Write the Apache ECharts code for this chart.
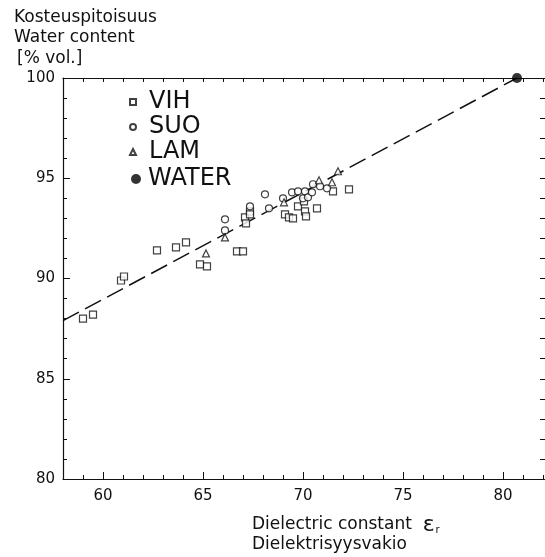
<!DOCTYPE html>
<html>
<head>
<meta charset="utf-8">
<script src="https://cdn.jsdelivr.net/npm/echarts@6/dist/echarts.min.js"></script>
<style>
  html, body { margin: 0; padding: 0; background: #fff; }
  #chart { width: 545px; height: 557px; }
</style>
</head>
<body>
<div id="chart"></div>
<script>
  "use strict";
  // 数据 (dielectric constant, water content % vol.)
  var vihData = [
    [59.0, 88.0], [59.5, 88.2], [60.9, 89.9], [61.05, 90.1], [62.7, 91.4],
    [63.65, 91.55], [64.15, 91.8], [64.85, 90.7], [65.2, 90.6], [66.7, 91.35],
    [67.0, 91.35], [67.1, 93.05], [67.15, 92.75], [67.35, 93.35], [67.35, 93.2],
    [69.1, 93.2], [69.3, 93.05], [69.5, 93.0], [69.75, 93.6], [70.05, 93.85],
    [70.1, 93.35], [70.15, 93.1], [70.7, 93.5], [71.5, 94.35], [72.3, 94.45]
  ];
  var suoData = [
    [66.1, 92.95], [66.1, 92.4], [67.35, 93.6], [68.1, 94.2], [68.3, 93.5],
    [69.0, 94.0], [69.45, 94.3], [69.75, 94.35], [70.0, 94.0], [70.1, 94.35],
    [70.25, 94.05], [70.45, 94.3], [70.5, 94.7], [70.85, 94.6], [71.2, 94.5]
  ];
  var lamData = [
    [65.15, 91.25], [66.1, 92.05], [69.05, 93.8], [70.8, 94.9], [71.45, 94.8], [71.75, 95.35]
  ];
  var waterData = [[80.7, 100]];
  // 回归线两端
  var fitX = [58, 80.7];
  var fitY = [87.9, 100];
  // 刻度
  var xMajorTicks = [60, 65, 70, 75, 80];
  var yTicks = [80, 85, 90, 95, 100];

  var FONT = '"DejaVu Sans", sans-serif';
  var INK = '#111';

  var chart = echarts.init(document.getElementById('chart'));

  var hollow = { color: '#fff', borderColor: INK, borderWidth: 1.2 };

  var option = {
    animation: false,
    backgroundColor: '#fff',
    grid: { left: 63, top: 78, width: 483, height: 401 },
    legend: [
      {
        data: ['VIH', 'SUO', 'LAM'],
        orient: 'vertical', left: 124, top: 85,
        itemWidth: 6, itemHeight: 6, itemGap: 1,
        textStyle: { fontFamily: FONT, fontSize: 24, lineHeight: 24, color: INK, padding: [0, 0, 0, 8] },
        selectedMode: false
      },
      {
        data: ['WATER'],
        orient: 'vertical', left: 126, top: 162,
        itemWidth: 10, itemHeight: 10,
        textStyle: { fontFamily: FONT, fontSize: 24, lineHeight: 24, color: INK, padding: [0, 0, 0, 2] },
        selectedMode: false
      }
    ],
    xAxis: [
      {
        type: 'value', position: 'bottom', min: 58, max: 82.1, interval: 1,
        splitLine: { show: false },
        axisLine: { lineStyle: { color: INK, width: 1.2 } },
        axisTick: { inside: true, length: 4, lineStyle: { color: INK } },
        axisLabel: {
          margin: 10, fontFamily: FONT, fontSize: 15, color: INK,
          customValues: xMajorTicks
        }
      },
      {
        type: 'value', position: 'bottom', min: 58, max: 82.1,
        splitLine: { show: false },
        axisLine: { show: false },
        axisTick: { inside: true, length: 7, customValues: xMajorTicks, lineStyle: { color: INK } },
        axisLabel: { show: false }
      },
      {
        type: 'value', position: 'top', min: 58, max: 82.1, interval: 1,
        splitLine: { show: false },
        axisLine: { lineStyle: { color: INK, width: 1.2 } },
        axisTick: { inside: true, length: 4, lineStyle: { color: INK } },
        axisLabel: { show: false }
      }
    ],
    yAxis: [
      {
        type: 'value', position: 'left', min: 80, max: 100, interval: 5,
        splitLine: { show: false },
        axisLine: { lineStyle: { color: INK, width: 1.2 } },
        axisTick: { inside: true, length: 7, lineStyle: { color: INK } },
        minorTick: { show: true, splitNumber: 5, length: 4, lineStyle: { color: INK } },
        axisLabel: { margin: 8, fontFamily: FONT, fontSize: 15, color: INK, customValues: yTicks }
      },
      {
        type: 'value', position: 'right', min: 80, max: 100, interval: 5,
        splitLine: { show: false },
        axisLine: { show: false },
        axisTick: { inside: true, length: 5, lineStyle: { color: INK } },
        minorTick: { show: true, splitNumber: 5, length: 5, lineStyle: { color: INK } },
        axisLabel: { show: false }
      }
    ],
    series: [
      {
        name: 'fit', type: 'line', silent: true, z: 1,
        data: fitX.map(function (x, i) { return [x, fitY[i]]; }),
        symbol: 'none',
        lineStyle: { color: INK, width: 1.5, type: [18, 7] }
      },
      {
        name: 'VIH', type: 'scatter', symbol: 'rect', symbolSize: 7, z: 3,
        itemStyle: hollow, data: vihData
      },
      {
        name: 'SUO', type: 'scatter', symbol: 'circle', symbolSize: 7, z: 3,
        itemStyle: hollow, data: suoData
      },
      {
        name: 'LAM', type: 'scatter', symbol: 'triangle', symbolSize: 7, z: 3,
        itemStyle: hollow, data: lamData
      },
      {
        name: 'WATER', type: 'scatter', symbol: 'circle', symbolSize: 10, z: 4, clip: false,
        itemStyle: { color: '#000' }, data: waterData
      }
    ],
    graphic: [
      { type: 'text', x: 14, y: 18, style: { text: 'Kosteuspitoisuus', font: '17px ' + FONT, fill: INK, verticalAlign: 'middle' } },
      { type: 'text', x: 14, y: 38, style: { text: 'Water content', font: '17px ' + FONT, fill: INK, verticalAlign: 'middle' } },
      { type: 'text', x: 17, y: 59, style: { text: '[% vol.]', font: '17px ' + FONT, fill: INK, verticalAlign: 'middle' } },
      {
        type: 'text', x: 252, y: 525,
        style: {
          text: 'Dielectric constant  {e|ε}{s|r}',
          font: '17px ' + FONT, fill: INK, verticalAlign: 'middle',
          rich: {
            e: { fontSize: 22, fontFamily: FONT, fill: INK },
            s: { fontSize: 10, fontFamily: FONT, fill: INK, padding: [10, 0, 0, 1] }
          }
        }
      },
      { type: 'text', x: 252, y: 545, style: { text: 'Dielektrisyysvakio', font: '17px ' + FONT, fill: INK, verticalAlign: 'middle' } }
    ]
  };

  chart.setOption(option);
</script>
</body>
</html>
